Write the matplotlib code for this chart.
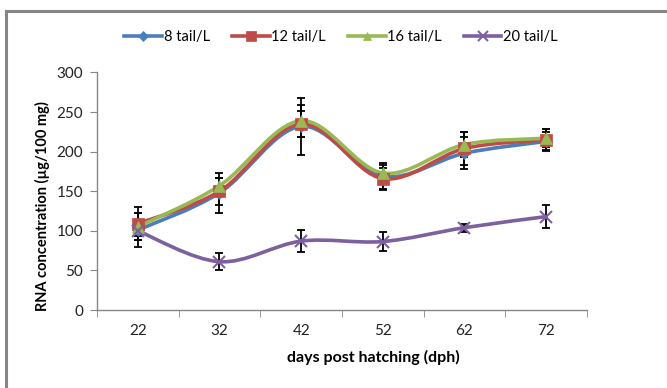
import numpy as np
import matplotlib.pyplot as plt
from matplotlib.path import Path
from matplotlib.patches import PathPatch
from matplotlib.lines import Line2D

plt.rcParams['font.family'] = ['Lato', 'DejaVu Sans']

# data
days = ['22', '32', '42', '52', '62', '72']
series_names = ['8 tail/L', '12 tail/L', '16 tail/L', '20 tail/L']
rna_8 = [101, 148, 232, 169, 198, 213]
rna_12 = [109, 150, 235, 166, 204, 215]
rna_16 = [105, 157, 239, 173, 209, 217]
rna_20 = [100, 61, 87, 86.5, 104, 118]
err_8 = [21, 25, 36, 17, 20, 12]
err_12 = [21, 17, 16, 13, 21, 13]
err_16 = [17, 10, 20, 10, 16, 11]
err_20 = [6, 10.5, 14, 11.5, 5, 15]

colors = ['#4A7EBB', '#BE4B48', '#98B954', '#7D60A0']
markers = ['D', 's', '^', 'x']
msizes = [6, 9, 8, 9]


def smooth_path(x, y):
    # Excel-style smoothed line: cubic bezier segments through the points
    pts = np.column_stack([x, y]).astype(float)
    verts = [pts[0]]
    codes = [Path.MOVETO]
    n = len(pts)
    for i in range(n - 1):
        p0 = pts[i - 1] if i > 0 else pts[i]
        p1 = pts[i]
        p2 = pts[i + 1]
        p3 = pts[i + 2] if i + 2 < n else pts[i + 1]
        c1 = p1 + (p2 - p0) / 6.0
        c2 = p2 - (p3 - p1) / 6.0
        verts += [c1, c2, p2]
        codes += [Path.CURVE4, Path.CURVE4, Path.CURVE4]
    return Path(verts, codes)


fig = plt.figure(figsize=(6.67, 3.88), dpi=100)
ax = fig.add_axes([97 / 667, 1 - 310 / 388, 490 / 667, (310 - 72.5) / 388])

x = np.arange(len(days))
all_vals = [rna_8, rna_12, rna_16, rna_20]
all_errs = [err_8, err_12, err_16, err_20]

for vals, errs, c, m, ms in zip(all_vals, all_errs, colors, markers, msizes):
    ax.add_patch(PathPatch(smooth_path(x, vals), facecolor='none', edgecolor=c,
                           lw=2.6, capstyle='round', zorder=2))
    ax.errorbar(x, vals, yerr=errs, fmt='none', ecolor='black', elinewidth=1.3,
                capsize=3, capthick=1.3, zorder=3)
    mew = 1.5 if m == 'x' else 0.5
    ax.plot(x, vals, ls='none', marker=m, ms=ms, color=c, mec=c, mew=mew, zorder=4)

ax.set_xlim(-0.5, len(days) - 0.5)
ax.set_ylim(0, 300)
ax.set_yticks(range(0, 301, 50))
ax.set_xticks(x)
ax.set_xticklabels(days)
ax.set_xticks(np.arange(-0.5, len(days), 1), minor=True)
ax.tick_params(axis='x', which='major', length=0, pad=10, labelsize=11, colors='#222222')
ax.tick_params(axis='x', which='minor', length=5, direction='out', color='#868686')
ax.tick_params(axis='y', length=5, direction='out', color='#868686', labelsize=11,
               labelcolor='#222222', pad=5)

for side in ['top', 'right']:
    ax.spines[side].set_visible(False)
for side in ['left', 'bottom']:
    ax.spines[side].set_color('#868686')
    ax.spines[side].set_linewidth(1)

ax.set_xlabel('days post hatching (dph)', fontsize=11.5, fontweight='bold')
ax.set_ylabel('RNA concentration (µg/100 mg)', fontsize=10.5, fontweight='bold')
ax.xaxis.set_label_coords((373 - 97) / 490, -(357 - 310) / 237.5)
ax.yaxis.set_label_coords((42 - 97) / 490, (310 - 206) / 237.5)
ax.xaxis.label.set_va('center')
ax.yaxis.label.set_va('center')

handles = [Line2D([], [], color=c, lw=2.6, marker=m, ms=ms * 0.8, mec=c,
                  mew=1.5 if m == 'x' else 0.5)
           for c, m, ms in zip(colors, markers, msizes)]
fig.legend(handles, series_names, loc='center', bbox_to_anchor=(341 / 667, 1 - 37 / 388),
           ncol=4, frameon=False, fontsize=10.5, handlelength=2.6, handletextpad=0.1,
           columnspacing=1.5)

# chart frame (only top and left edges are inside the picture)
fig.add_artist(Line2D([6 / 667, 6 / 667], [0, 1 - 11 / 388], color='#868686', lw=2.2))
fig.add_artist(Line2D([6 / 667, 1], [1 - 11 / 388, 1 - 11 / 388], color='#868686', lw=2.2))

fig.savefig('out.png', dpi=100)
